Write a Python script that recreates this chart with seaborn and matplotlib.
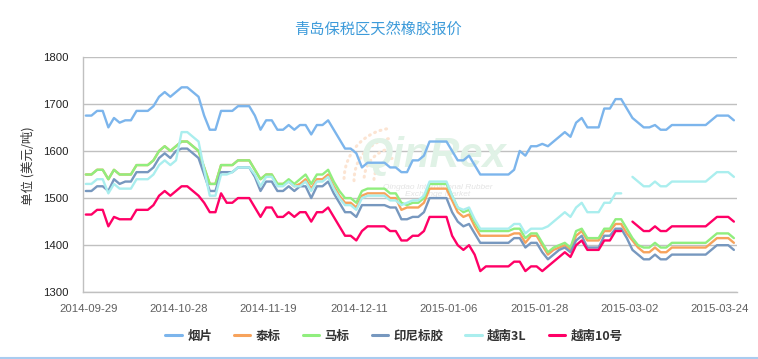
import numpy as np
import pandas as pd
import seaborn as sns
import matplotlib.pyplot as plt
from matplotlib.lines import Line2D
from matplotlib.patches import Arc

nan = np.nan

# category labels shown on the x axis (every 16th trading day)
tick_labels = ["2014-09-29", "2014-10-28", "2014-11-19", "2014-12-11",
               "2015-01-06", "2015-01-28", "2015-03-02", "2015-03-24"]
tick_index = [0, 16, 32, 48, 64, 80, 96, 112]

names = ["烟片", "泰标", "马标", "印尼标胶", "越南3L", "越南10号"]
colors = ["#7CB5EC", "#F7A35C", "#90EE7E", "#7798BF", "#AAEEEE", "#FF0066"]

yanpian = [1675, 1675, 1685, 1685, 1650, 1670, 1660, 1665, 1665, 1685,
           1685, 1685, 1695, 1715, 1725, 1715, 1725, 1735, 1735, 1725,
           1715, 1675, 1645, 1645, 1685, 1685, 1685, 1695, 1695, 1695,
           1675, 1645, 1665, 1665, 1645, 1645, 1655, 1645, 1655, 1655,
           1635, 1655, 1655, 1665, 1645, 1625, 1605, 1605, 1595, 1565,
           1575, 1575, 1575, 1575, 1565, 1565, 1555, 1555, 1580, 1580,
           1590, 1620, 1620, 1620, 1620, 1600, 1580, 1580, 1590, 1570,
           1550, 1550, 1550, 1550, 1550, 1550, 1560, 1600, 1590, 1610,
           1610, 1615, 1610, 1620, 1630, 1640, 1630, 1660, 1670, 1650,
           1650, 1650, 1690, 1690, 1710, 1710, 1690, 1670, 1660, 1650,
           1650, 1655, 1645, 1645, 1655, 1655, 1655, 1655, 1655, 1655,
           1655, 1665, 1675, 1675, 1675, 1665]

taibiao = [1550, 1550, 1560, 1560, 1540, 1560, 1550, 1550, 1550, 1570,
           1570, 1570, 1580, 1600, 1610, 1600, 1610, 1620, 1620, 1610,
           1600, 1565, 1530, 1530, 1570, 1570, 1570, 1580, 1580, 1580,
           1560, 1540, 1550, 1550, 1530, 1530, 1535, 1525, 1530, 1540,
           1520, 1540, 1540, 1550, 1525, 1505, 1490, 1490, 1480, 1505,
           1510, 1510, 1510, 1510, 1500, 1500, 1475, 1480, 1480, 1480,
           1490, 1520, 1520, 1520, 1520, 1495, 1470, 1460, 1465, 1440,
           1420, 1420, 1420, 1420, 1420, 1420, 1425, 1425, 1405, 1420,
           1420, 1400, 1380, 1390, 1395, 1400, 1390, 1420, 1430, 1410,
           1410, 1410, 1430, 1430, 1445, 1445, 1425, 1410, 1395, 1385,
           1385, 1395, 1385, 1385, 1395, 1395, 1395, 1395, 1395, 1395,
           1395, 1405, 1415, 1415, 1415, 1405]

mabiao = [1550, 1550, 1560, 1560, 1540, 1560, 1550, 1550, 1550, 1570,
          1570, 1570, 1580, 1600, 1610, 1600, 1610, 1620, 1620, 1610,
          1600, 1565, 1530, 1530, 1570, 1570, 1570, 1580, 1580, 1580,
          1560, 1540, 1550, 1550, 1530, 1530, 1540, 1530, 1540, 1550,
          1530, 1550, 1550, 1560, 1535, 1515, 1500, 1500, 1490, 1515,
          1520, 1520, 1520, 1520, 1510, 1510, 1490, 1485, 1490, 1490,
          1500, 1530, 1530, 1530, 1530, 1505, 1480, 1470, 1475, 1450,
          1430, 1430, 1430, 1430, 1430, 1430, 1435, 1435, 1415, 1425,
          1425, 1405, 1385, 1395, 1400, 1405, 1395, 1430, 1435, 1415,
          1415, 1415, 1435, 1435, 1455, 1455, 1435, 1415, 1400, 1395,
          1395, 1405, 1395, 1395, 1405, 1405, 1405, 1405, 1405, 1405,
          1405, 1415, 1425, 1425, 1425, 1415]

yinni = [1515, 1515, 1525, 1525, 1515, 1540, 1530, 1535, 1535, 1555,
         1555, 1555, 1565, 1585, 1595, 1585, 1600, 1605, 1605, 1595,
         1585, 1550, 1515, 1515, 1555, 1555, 1555, 1565, 1565, 1565,
         1545, 1515, 1535, 1535, 1515, 1515, 1525, 1515, 1525, 1525,
         1500, 1525, 1525, 1535, 1510, 1490, 1470, 1470, 1460, 1485,
         1485, 1485, 1485, 1485, 1480, 1480, 1455, 1455, 1460, 1460,
         1470, 1500, 1500, 1500, 1500, 1470, 1450, 1440, 1445, 1425,
         1405, 1405, 1405, 1405, 1405, 1405, 1415, 1415, 1395, 1405,
         1405, 1385, 1370, 1380, 1390, 1395, 1385, 1410, 1420, 1395,
         1395, 1395, 1420, 1420, 1435, 1435, 1415, 1390, 1380, 1370,
         1370, 1380, 1370, 1370, 1380, 1380, 1380, 1380, 1380, 1380,
         1380, 1390, 1400, 1400, 1400, 1390]

yuenan3l = [1530, 1530, 1540, 1540, 1510, 1530, 1520, 1520, 1520, 1540,
            1540, 1540, 1550, 1570, 1580, 1570, 1580, 1640, 1640, 1630,
            1620, 1560, 1505, 1505, 1550, 1550, 1555, 1565, 1565, 1565,
            1550, 1525, 1545, 1545, 1525, 1525, 1535, 1525, 1525, 1535,
            1515, 1535, 1535, 1545, 1520, 1500, 1485, 1485, 1475, 1500,
            1505, 1505, 1505, 1505, 1495, 1495, 1485, 1490, 1495, 1495,
            1505, 1535, 1535, 1535, 1535, 1505, 1480, 1475, 1480, 1455,
            1435, 1435, 1435, 1435, 1435, 1435, 1445, 1445, 1425, 1435,
            1435, 1435, 1440, 1450, 1460, 1470, 1460, 1480, 1490, 1470,
            1470, 1470, 1490, 1490, 1510, 1510, nan, 1545, 1535, 1525,
            1525, 1535, 1525, 1525, 1535, 1535, 1535, 1535, 1535, 1535,
            1535, 1545, 1555, 1555, 1555, 1545]

yuenan10 = [1465, 1465, 1475, 1475, 1440, 1460, 1455, 1455, 1455, 1475,
            1475, 1475, 1485, 1505, 1515, 1505, 1515, 1525, 1525, 1515,
            1505, 1490, 1470, 1470, 1510, 1490, 1490, 1500, 1500, 1500,
            1480, 1460, 1480, 1480, 1460, 1460, 1470, 1460, 1470, 1470,
            1450, 1470, 1470, 1480, 1460, 1440, 1420, 1420, 1410, 1430,
            1440, 1440, 1440, 1440, 1430, 1430, 1410, 1410, 1420, 1420,
            1430, 1460, 1460, 1460, 1460, 1420, 1400, 1390, 1400, 1380,
            1345, 1355, 1355, 1355, 1355, 1355, 1365, 1365, 1345, 1355,
            1355, 1345, 1355, 1365, 1375, 1385, 1375, 1400, 1410, 1390,
            1390, 1390, 1410, 1410, 1430, 1430, nan, 1450, 1440, 1430,
            1430, 1440, 1430, 1430, 1440, 1440, 1440, 1440, 1440, 1440,
            1440, 1450, 1460, 1460, 1460, 1450]

series = [yanpian, taibiao, mabiao, yinni, yuenan3l, yuenan10]

frames = []
for name, vals in zip(names, series):
    v = pd.Series(vals, dtype=float)
    frames.append(pd.DataFrame({"idx": np.arange(len(v)), "value": v,
                                "series": name,
                                "seg": v.isna().cumsum()}))
df = pd.concat(frames, ignore_index=True).dropna()
df["unit"] = df["series"] + "_" + df["seg"].astype(str)

sns.set_theme(style="white")
plt.rcParams["font.family"] = ["Liberation Sans", "Noto Sans CJK SC", "DejaVu Sans"]

W, H = 758, 359
fig = plt.figure(figsize=(W / 100, H / 100), dpi=100)
ax = fig.add_axes([83 / W, 1 - 292.3 / H, (736.7 - 83) / W, (292.3 - 56.7) / H])

# faint watermark (logo) behind the lines
for r in (22, 32, 42, 52):
    ax.add_patch(Arc((396 / W, 1 - 180 / H), 2 * r / W, 2 * r / H,
                     theta1=95, theta2=185, transform=fig.transFigure,
                     color="#FCE4D2", lw=2.2, linestyle=(0, (0.3, 1.6)),
                     capstyle="round", zorder=1))
ax.text(434 / W, 1 - 156 / H, "QinRex", transform=fig.transFigure, ha="center",
        va="center", fontsize=30, fontstyle="italic", fontweight="bold",
        color="#E0F2E6", zorder=1)
ax.text(438 / W, 1 - 191 / H, "Qingdao International Rubber\nExchange Market",
        transform=fig.transFigure, ha="center", va="center", fontsize=6,
        fontstyle="italic", color="#E4E4E4", zorder=1, linespacing=1.1)

sns.lineplot(data=df, x="idx", y="value", hue="series", units="unit",
             estimator=None, hue_order=names, palette=dict(zip(names, colors)),
             linewidth=1.7, legend=False, ax=ax, zorder=3)

ax.set_xlim(-0.5, 115.5)
ax.set_ylim(1300, 1800)
ax.set_yticks([1300, 1400, 1500, 1600, 1700, 1800])
ax.set_xticks([i + 0.45 for i in tick_index])
ax.set_xticklabels(tick_labels)
ax.set_xlabel("")
ax.set_ylabel("")

ax.set_axisbelow(True)
ax.yaxis.grid(True, color="#C0C0C0", linewidth=1)
ax.xaxis.grid(False)
for s in ["top", "right"]:
    ax.spines[s].set_visible(False)
ax.spines["left"].set_color("#C0C0C0")
ax.spines["bottom"].set_color("#C0C0C0")
ax.spines["left"].set_linewidth(1)
ax.spines["bottom"].set_linewidth(1)

ax.tick_params(axis="y", length=0, pad=10.5, labelsize=8.2, labelcolor="#222222")
ax.tick_params(axis="x", length=6.5, width=1, color="#C0D0E0", direction="out",
               pad=2, labelsize=8.2, labelcolor="#606060")

fig.text(377.5 / W, 1 - 29 / H, "青岛保税区天然橡胶报价", ha="center", va="center",
         fontsize=11, color="#3D9BDA", family=["Noto Sans CJK SC", "DejaVu Sans"])
fig.text(28 / W, 1 - 166 / H, "单位 (美元/吨)", ha="center", va="center",
         rotation=90, fontsize=9, color="#333333",
         family=["Noto Sans CJK SC", "DejaVu Sans"])

handles = [Line2D([0], [0], color=c, lw=2.2) for c in colors]
fig.legend(handles, names, loc="center", bbox_to_anchor=(394 / W, 1 - 336 / H),
           ncol=6, frameon=False, handlelength=1.3, handletextpad=0.45,
           columnspacing=1.75, prop={"weight": "bold", "size": 9,
                                     "family": ["Noto Sans CJK SC", "DejaVu Sans"]},
           labelcolor="#333333")

fig.add_artist(Line2D([0, 1], [0.8 / H, 0.8 / H], transform=fig.transFigure,
                      color="#A9CCF0", lw=1.5))

fig.savefig("out.png", dpi=100)
